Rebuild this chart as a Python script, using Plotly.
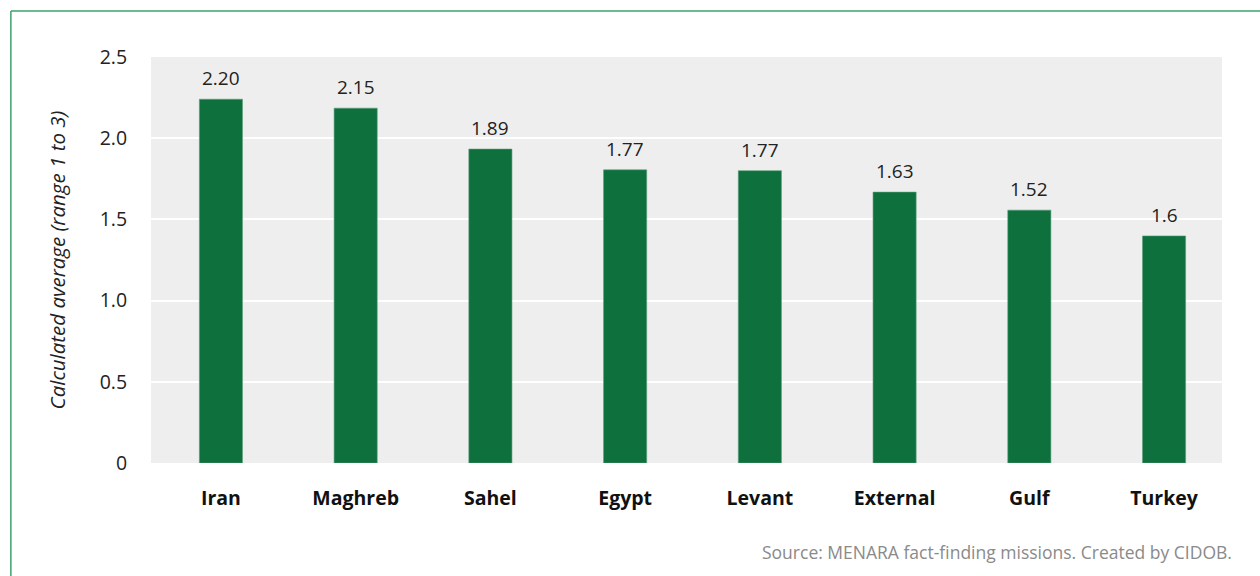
import plotly.graph_objects as go

categories = ["Iran", "Maghreb", "Sahel", "Egypt", "Levant", "External", "Gulf", "Turkey"]
bar_values = [2.24, 2.185, 1.933, 1.805, 1.80, 1.668, 1.557, 1.398]
value_labels = ["2.20", "2.15", "1.89", "1.77", "1.77", "1.63", "1.52", "1.6"]
y_tickvals = [0, 0.5, 1.0, 1.5, 2.0, 2.5]
y_ticktext = ["0", "0.5", "1.0", "1.5", "2.0", "2.5"]

FONT = "Open Sans"
GREEN = "#0d703d"

fig = go.Figure()
fig.add_trace(go.Bar(
    x=categories, y=bar_values,
    marker=dict(color=GREEN, line=dict(color="#5a9c78", width=0.6)),
    width=0.32, hoverinfo="skip",
))

for c, v, t in zip(categories, bar_values, value_labels):
    fig.add_annotation(x=c, y=v, text=t, showarrow=False, yanchor="bottom",
                       yshift=6, font=dict(family=FONT, size=19, color="#222222"))

fig.add_annotation(xref="paper", yref="paper", x=(1233 - 151) / 1070, y=-(538 - 463) / 406,
                   xanchor="right", yanchor="top",
                   text="Source: MENARA fact-finding missions. Created by CIDOB.",
                   showarrow=False, font=dict(family=FONT, size=17.5, color="#8a8a8a"))

# frame border (top and left edges visible)
fy = (463 - 11) / 406
fx = (11 - 151) / 1070
fig.add_shape(type="line", xref="paper", yref="paper", x0=fx, x1=1.1, y0=fy, y1=fy,
              line=dict(color="#3ea36b", width=1.5))
fig.add_shape(type="line", xref="paper", yref="paper", x0=fx, x1=fx, y0=fy, y1=-0.4,
              line=dict(color="#3ea36b", width=1.5))

fig.update_layout(
    width=1260, height=576,
    margin=dict(l=151, r=38, t=57, b=113),
    paper_bgcolor="white", plot_bgcolor="#eeeeee",
    showlegend=False,
    bargap=0.68,
    font=dict(family=FONT),
    xaxis=dict(
        range=[-0.519, 7.43],
        showgrid=False, zeroline=False, ticks="outside", ticklen=18, tickcolor="rgba(0,0,0,0)",
        tickfont=dict(family=FONT, size=19.5, color="#111111", weight="bold"),
    ),
    yaxis=dict(
        range=[0, 2.5], tickvals=y_tickvals, ticktext=y_ticktext,
        showgrid=True, gridcolor="white", gridwidth=2, zeroline=False,
        ticks="outside", ticklen=19, tickcolor="rgba(0,0,0,0)",
        tickfont=dict(family=FONT, size=19.5, color="#222222"),
        title=dict(text="<i>Calculated average (range 1 to 3)</i>", standoff=28,
                   font=dict(family=FONT, size=20.5, color="#222222")),
    ),
)

fig.write_html("out.html", config={"displayModeBar": False},
               post_script="document.body.style.margin='0';")
